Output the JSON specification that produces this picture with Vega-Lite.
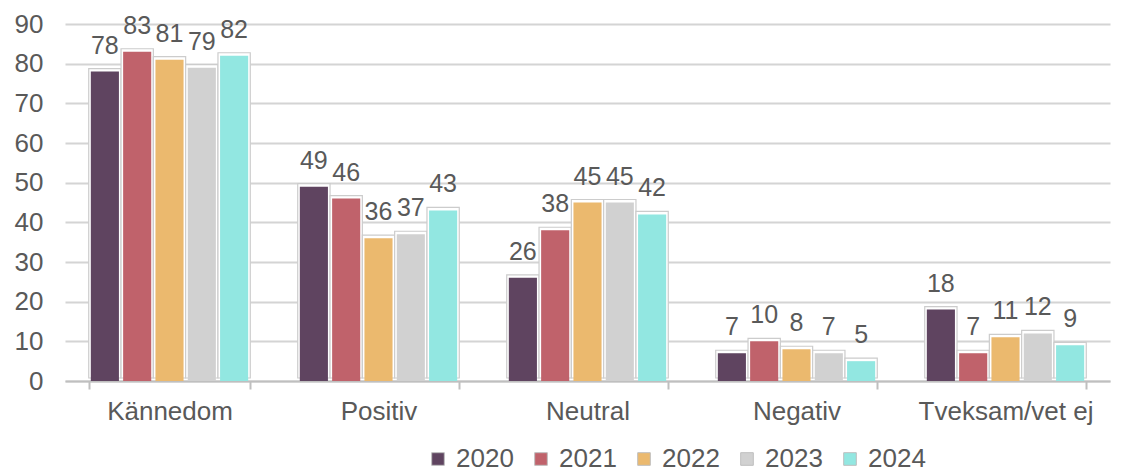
{
  "$schema": "https://vega.github.io/schema/vega-lite/v6.json",
  "width": 1045,
  "height": 357,
  "autosize": {"type": "none"},
  "padding": {"left": 65, "top": 24, "right": 11, "bottom": 93},
  "background": "white",
  "config": {
    "view": {"stroke": null},
    "font": "Liberation Sans",
    "axis": {"labelFont": "Liberation Sans", "labelColor": "#595959", "labelFontSize": 26},
    "legend": {"labelFont": "Liberation Sans", "labelColor": "#595959", "labelFontSize": 26}
  },
  "data": {
    "values": [
      {"kategori": "Kännedom", "år": "2020", "värde": 78},
      {"kategori": "Kännedom", "år": "2021", "värde": 83},
      {"kategori": "Kännedom", "år": "2022", "värde": 81},
      {"kategori": "Kännedom", "år": "2023", "värde": 79},
      {"kategori": "Kännedom", "år": "2024", "värde": 82},
      {"kategori": "Positiv", "år": "2020", "värde": 49},
      {"kategori": "Positiv", "år": "2021", "värde": 46},
      {"kategori": "Positiv", "år": "2022", "värde": 36},
      {"kategori": "Positiv", "år": "2023", "värde": 37},
      {"kategori": "Positiv", "år": "2024", "värde": 43},
      {"kategori": "Neutral", "år": "2020", "värde": 26},
      {"kategori": "Neutral", "år": "2021", "värde": 38},
      {"kategori": "Neutral", "år": "2022", "värde": 45},
      {"kategori": "Neutral", "år": "2023", "värde": 45},
      {"kategori": "Neutral", "år": "2024", "värde": 42},
      {"kategori": "Negativ", "år": "2020", "värde": 7},
      {"kategori": "Negativ", "år": "2021", "värde": 10},
      {"kategori": "Negativ", "år": "2022", "värde": 8},
      {"kategori": "Negativ", "år": "2023", "värde": 7},
      {"kategori": "Negativ", "år": "2024", "värde": 5},
      {"kategori": "Tveksam/vet ej", "år": "2020", "värde": 18},
      {"kategori": "Tveksam/vet ej", "år": "2021", "värde": 7},
      {"kategori": "Tveksam/vet ej", "år": "2022", "värde": 11},
      {"kategori": "Tveksam/vet ej", "år": "2023", "värde": 12},
      {"kategori": "Tveksam/vet ej", "år": "2024", "värde": 9}
    ]
  },
  "encoding": {
    "x": {
      "field": "kategori",
      "type": "nominal",
      "sort": null,
      "title": null,
      "scale": {"paddingInner": 0.227, "paddingOuter": 0.1135},
      "axis": {
        "labelAngle": 0,
        "domainColor": "#bfbfbf",
        "domainWidth": 2,
        "tickColor": "#bfbfbf",
        "tickWidth": 2,
        "tickSize": 8,
        "tickBand": "extent",
        "labelPadding": 9,
        "grid": false
      }
    },
    "y": {
      "field": "värde",
      "type": "quantitative",
      "title": null,
      "scale": {"domain": [0, 90], "nice": false},
      "axis": {
        "values": [0, 10, 20, 30, 40, 50, 60, 70, 80, 90],
        "domain": false,
        "ticks": false,
        "labelPadding": 22,
        "gridColor": "#d4d4d4",
        "gridWidth": 2
      }
    }
  },
  "layer": [
    {
      "mark": {"type": "bar", "fill": "white", "stroke": "#cccccc", "strokeWidth": 1.2, "yOffset": -3},
      "encoding": {
        "xOffset": {"field": "år", "type": "nominal", "scale": {"paddingInner": 0, "paddingOuter": 0}}
      }
    },
    {
      "layer": [
        {
          "mark": {"type": "bar"},
          "encoding": {
            "color": {
              "field": "år",
              "type": "nominal",
              "scale": {"domain": ["2020", "2021", "2022", "2023", "2024"], "range": ["#5f4460", "#c0626b", "#ebb96e", "#d1d1d1", "#92e7e1"]},
              "legend": {
                "title": null,
                "orient": "none",
                "legendX": 360,
                "legendY": 422,
                "direction": "horizontal",
                "symbolType": "square",
                "symbolSize": 160,
                "symbolStrokeColor": "#bfbfbf",
                "symbolStrokeWidth": 1,
                "columnPadding": 14,
                "labelOffset": 5
              }
            }
          }
        },
        {
          "mark": {"type": "text", "baseline": "alphabetic", "dy": -18, "fontSize": 25, "color": "#595959", "font": "Liberation Sans"},
          "encoding": {"text": {"field": "värde", "type": "quantitative"}}
        }
      ],
      "encoding": {
        "xOffset": {"field": "år", "type": "nominal", "scale": {"paddingInner": 0.13, "paddingOuter": 0.065}}
      }
    }
  ],
  "resolve": {"scale": {"xOffset": "independent"}}
}
